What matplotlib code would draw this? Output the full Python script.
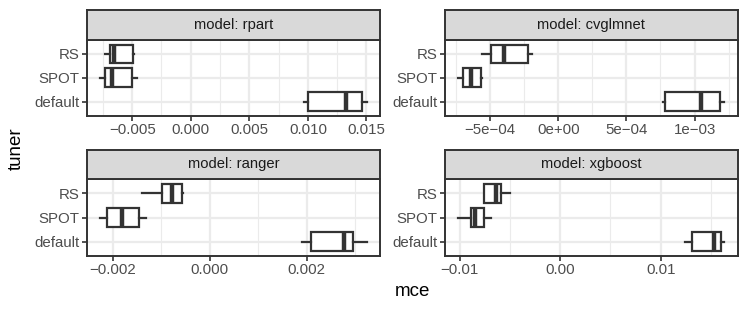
import matplotlib
matplotlib.use("Agg")
import matplotlib.pyplot as plt
from matplotlib.ticker import FixedLocator, FixedFormatter

plt.rcParams["font.family"] = ["Liberation Sans", "DejaVu Sans"]

tuners = ["RS", "SPOT", "default"]

# per model: [whisker low, q1, median, q3, whisker high] for RS, SPOT, default
rpart = [[-0.00733, -0.00690, -0.00652, -0.00496, -0.00485],
         [-0.00772, -0.00733, -0.00675, -0.00498, -0.00459],
         [0.00969, 0.00997, 0.01322, 0.01462, 0.01502]]
cvglmnet = [[-5.63e-4, -4.97e-4, -3.97e-4, -2.25e-4, -1.96e-4],
            [-7.35e-4, -7.01e-4, -6.40e-4, -5.71e-4, -5.59e-4],
            [7.68e-4, 7.80e-4, 1.049e-3, 1.189e-3, 1.218e-3]]
ranger = [[-0.00140, -0.00099, -0.00079, -0.00057, -0.00056],
          [-0.00226, -0.00212, -0.00181, -0.00146, -0.00131],
          [0.00191, 0.00210, 0.00277, 0.00296, 0.00324]]
xgboost = [[-0.00753, -0.00753, -0.00640, -0.00590, -0.00498],
           [-0.01012, -0.00886, -0.00846, -0.00753, -0.00687],
           [0.01244, 0.01310, 0.01526, 0.01599, 0.01632]]

models = ["rpart", "cvglmnet", "ranger", "xgboost"]
model_stats = [rpart, cvglmnet, ranger, xgboost]

major_ticks = [[-0.005, 0.0, 0.005, 0.010, 0.015],
               [-5e-4, 0.0, 5e-4, 1e-3],
               [-0.002, 0.0, 0.002],
               [-0.01, 0.0, 0.01]]
major_labels = [["\u22120.005", "0.000", "0.005", "0.010", "0.015"],
                ["\u22125e\u221204", "0e+00", "5e\u221204", "1e\u221203"],
                ["\u22120.002", "0.000", "0.002"],
                ["\u22120.01", "0.00", "0.01"]]
minor_ticks = [[-0.0075, -0.0025, 0.0025, 0.0075, 0.0125],
               [-7.5e-4, -2.5e-4, 2.5e-4, 7.5e-4, 1.25e-3],
               [-0.001, 0.001, 0.003],
               [-0.005, 0.005, 0.015]]

W, H = 747, 312
fig = plt.figure(figsize=(W / 100, H / 100), dpi=100)

dark = "#333333"
# panel boxes in pixels: (left, right, strip top, strip bottom, panel bottom)
boxes = [(87, 380, 10, 39.5, 116),
         (445, 737.5, 10, 39.5, 116),
         (87, 380, 149.5, 179, 256),
         (445, 737.5, 149.5, 179, 256)]

for i, (name, stats) in enumerate(zip(models, model_stats)):
    l, r, st, sb, pb = boxes[i]
    ax = fig.add_axes([l / W, 1 - pb / H, (r - l) / W, (pb - sb) / H])
    sax = fig.add_axes([l / W, 1 - sb / H, (r - l) / W, (sb - st) / H])

    ypos = [3, 2, 1]
    bstats = []
    for s in stats:
        bstats.append(dict(whislo=s[0], q1=s[1], med=s[2], q3=s[3], whishi=s[4], fliers=[]))
    ax.bxp(bstats, positions=ypos, widths=0.78, vert=False, showcaps=False,
           showfliers=False, patch_artist=True,
           boxprops=dict(facecolor="white", edgecolor=dark, linewidth=1.6),
           whiskerprops=dict(color=dark, linewidth=1.6),
           medianprops=dict(color=dark, linewidth=3.2, solid_capstyle="butt"),
           zorder=3)

    lo = min(s[0] for s in stats)
    hi = max(s[4] for s in stats)
    pad = (hi - lo) * 0.05
    ax.set_xlim(lo - pad, hi + pad)
    ax.set_ylim(0.4, 3.6)

    ax.xaxis.set_major_locator(FixedLocator(major_ticks[i]))
    ax.xaxis.set_major_formatter(FixedFormatter(major_labels[i]))
    ax.set_yticks(ypos)
    ax.set_yticklabels(tuners)
    for m in minor_ticks[i]:
        ax.axvline(m, color="#EBEBEB", linewidth=0.8, zorder=0)
    for m in major_ticks[i]:
        ax.axvline(m, color="#EBEBEB", linewidth=1.6, zorder=0)
    for y in ypos:
        ax.axhline(y, color="#EBEBEB", linewidth=1.6, zorder=0)

    ax.tick_params(axis="both", colors=dark, labelcolor="#4D4D4D",
                   labelsize=10.8, length=3.3, width=1.2, pad=2)
    for sp in ax.spines.values():
        sp.set_color(dark)
        sp.set_linewidth(1.4)
        sp.set_zorder(5)

    sax.set_facecolor("#D9D9D9")
    sax.set_xticks([])
    sax.set_yticks([])
    for sp in sax.spines.values():
        sp.set_color(dark)
        sp.set_linewidth(1.4)
    sax.text(0.5, 0.5, "model: " + name, transform=sax.transAxes,
             ha="center", va="center", fontsize=10.6, color="#1A1A1A")

fig.text(16 / W, 1 - 149 / H, "tuner", rotation=90, ha="center", va="center",
         fontsize=13.5, color="black")
fig.text(412 / W, 1 - 292 / H, "mce", ha="center", va="center",
         fontsize=13.5, color="black")

fig.savefig("out.png", dpi=100)
